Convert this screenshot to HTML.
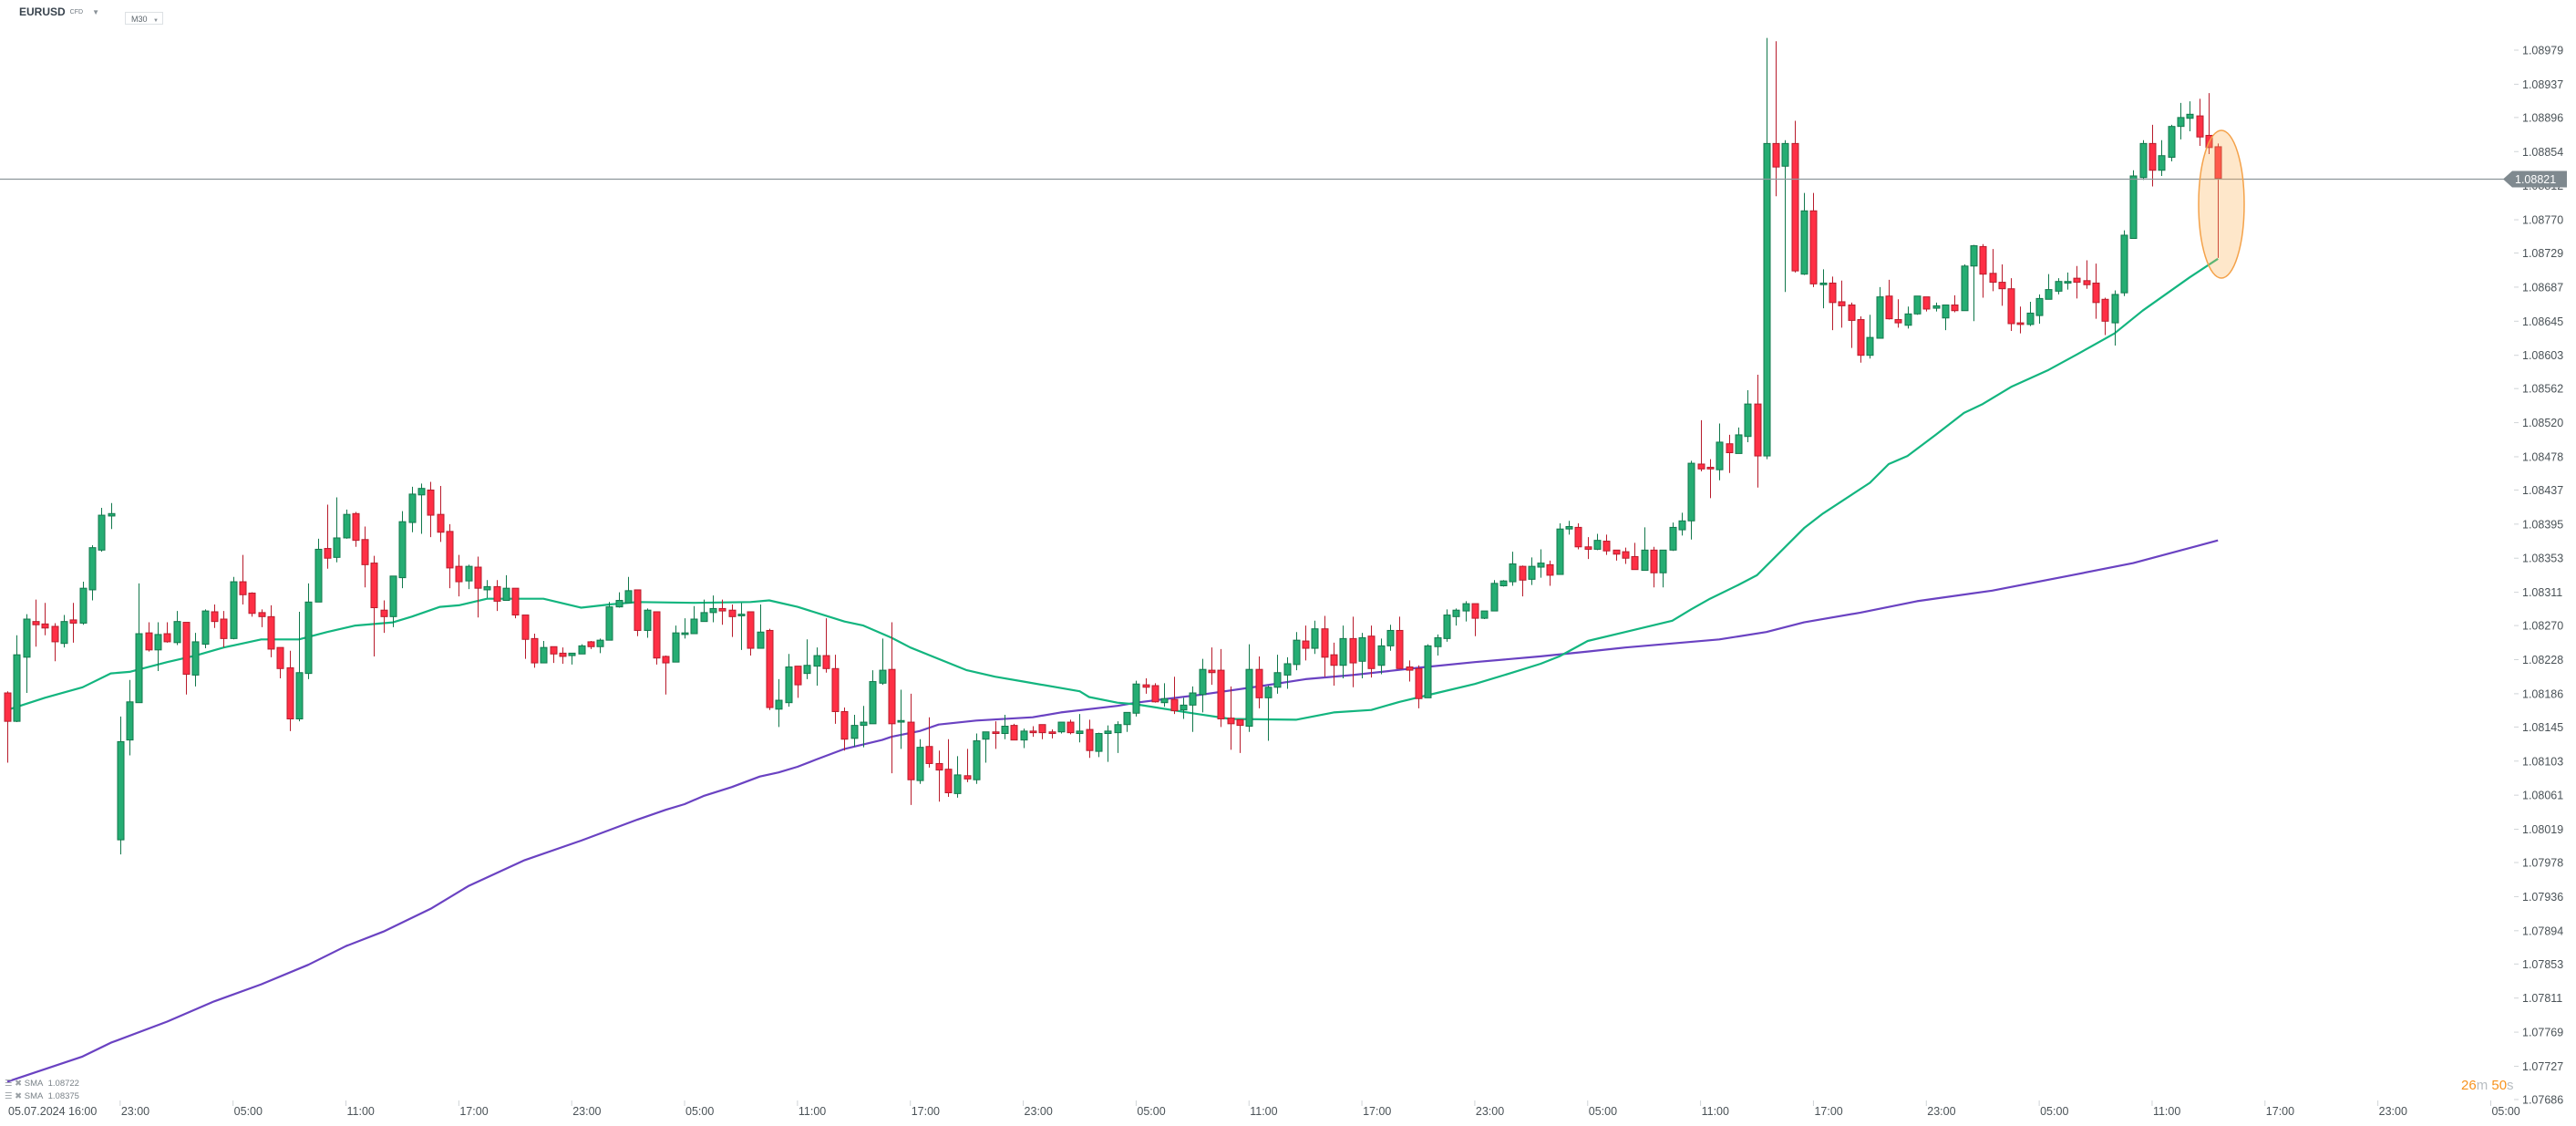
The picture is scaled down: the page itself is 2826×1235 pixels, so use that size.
<!DOCTYPE html>
<html><head><meta charset="utf-8"><style>
html,body{margin:0;padding:0;background:#fff;}
body{width:2826px;height:1235px;overflow:hidden;position:relative;font-family:"Liberation Sans",sans-serif;}
#hdr{position:absolute;left:0;top:0;}
</style></head><body>
<div style="position:absolute;left:21px;top:3px;height:20px;display:flex;align-items:center;">
<span style="font-weight:bold;font-size:12px;color:#38434d;">EURUSD</span>
<span style="font-size:7px;color:#6d767e;margin-left:5px;">CFD</span>
<span style="font-size:8px;color:#8a9298;margin-left:10px;">▼</span>
</div>
<div style="position:absolute;left:137px;top:13px;width:42px;height:14px;border:1px solid #dde1e4;font-size:9px;color:#5b646b;line-height:14px;padding-left:6px;box-sizing:border-box;">M30 <span style="font-size:6px;color:#8a9298;margin-left:4px;">▼</span></div>
<svg id="chart" width="2826" height="1235" style="position:absolute;left:0;top:0;" xmlns="http://www.w3.org/2000/svg"></svg>
<div style="position:absolute;left:5px;top:1182px;font-size:9.5px;color:#7a8288;line-height:14px;">
<div><span style="color:#9aa0a5">☰ ✖</span> SMA&nbsp; 1.08722</div>
<div><span style="color:#9aa0a5">☰ ✖</span> SMA&nbsp; 1.08375</div>
</div>
<div style="position:absolute;left:2700px;top:1182px;font-size:15px;color:#f7931e;">26<span style="color:#b8bdc1">m</span> 50<span style="color:#b8bdc1">s</span></div>
<script>
const OPEN=[108187,108152,108231,108275,108272,108269,108248,108277,108273,108314,108363,108405,108006,108129,108175,108261,108240,108260,108249,108274,108209,108247,108287,108278,108254,108324,108310,108286,108281,108243,108218,108155,108211,108299,108365,108354,108378,108408,108376,108347,108289,108281,108329,108397,108431,108437,108407,108386,108343,108325,108342,108314,108318,108301,108316,108283,108254,108224,108244,108236,108233,108235,108250,108244,108252,108293,108298,108314,108264,108287,108232,108225,108259,108260,108275,108286,108291,108289,108282,108287,108242,108264,108167,108175,108220,108211,108220,108233,108217,108164,108131,108147,108149,108199,108216,108151,108151,108079,108121,108100,108093,108063,108085,108080,108130,108139,108137,108147,108129,108140,108148,108139,108139,108151,108137,108142,108115,108137,108138,108148,108162,108197,108196,108175,108179,108166,108172,108185,108215,108215,108156,108154,108146,108216,108181,108194,108209,108222,108251,108242,108266,108234,108221,108254,108226,108257,108221,108245,108264,108219,108217,108181,108244,108254,108281,108288,108297,108279,108288,108319,108324,108343,108327,108342,108345,108333,108389,108391,108367,108364,108374,108363,108361,108355,108338,108363,108335,108363,108388,108399,108469,108465,108462,108494,108482,108503,108543,108479,108864,108836,108864,108703,108781,108690,108692,108669,108665,108647,108603,108624,108676,108647,108640,108654,108675,108661,108649,108665,108658,108713,108737,108704,108693,108685,108643,108641,108652,108672,108682,108692,108698,108695,108692,108672,108643,108680,108747,108822,108864,108831,108847,108885,108895,108898,108874,108860];
const HIGH=[108189,108258,108284,108302,108298,108273,108283,108298,108324,108369,108415,108421,108158,108203,108322,108274,108274,108274,108288,108274,108261,108290,108296,108288,108330,108357,108311,108290,108295,108243,108239,108287,108322,108377,108419,108428,108413,108410,108392,108356,108301,108331,108411,108441,108445,108447,108442,108395,108357,108345,108355,108326,108326,108332,108316,108283,108260,108251,108244,108243,108236,108247,108251,108254,108299,108311,108330,108314,108291,108287,108233,108270,108279,108294,108302,108307,108302,108296,108298,108287,108296,108266,108204,108235,108220,108253,108243,108279,108234,108169,108160,108171,108215,108254,108274,108191,108186,108130,108157,108116,108130,108109,108118,108137,108139,108152,108160,108149,108143,108146,108148,108142,108151,108154,108161,108154,108138,108147,108152,108163,108202,108205,108199,108199,108207,108181,108195,108229,108243,108241,108195,108154,108247,108232,108196,108234,108231,108262,108270,108276,108282,108249,108270,108281,108261,108270,108254,108271,108281,108227,108221,108247,108259,108290,108291,108300,108297,108288,108326,108326,108361,108344,108354,108364,108350,108396,108399,108396,108379,108383,108382,108363,108366,108372,108391,108367,108363,108397,108409,108473,108523,108475,108519,108505,108514,108560,108579,108994,108990,108868,108892,108803,108803,108709,108700,108695,108668,108651,108653,108687,108696,108672,108663,108676,108675,108668,108665,108677,108715,108739,108740,108734,108715,108698,108663,108669,108678,108703,108698,108705,108713,108720,108716,108674,108683,108757,108831,108868,108887,108868,108887,108914,108916,108919,108926,108864];
const LOW=[108101,108151,108187,108244,108258,108226,108243,108249,108271,108301,108361,108389,107988,108110,108175,108238,108214,108249,108246,108185,108195,108242,108267,108243,108253,108296,108281,108268,108231,108205,108140,108152,108204,108299,108340,108348,108377,108367,108317,108232,108261,108268,108316,108385,108383,108379,108373,108316,108306,108315,108280,108304,108288,108301,108279,108229,108218,108224,108224,108223,108222,108235,108241,108236,108252,108292,108298,108257,108255,108222,108185,108225,108254,108260,108275,108274,108271,108256,108240,108233,108242,108166,108145,108170,108181,108204,108196,108212,108149,108116,108121,108120,108149,108197,108088,108118,108049,108075,108095,108053,108059,108058,108077,108075,108101,108118,108130,108129,108119,108133,108130,108131,108137,108136,108126,108107,108108,108102,108113,108139,108158,108186,108175,108170,108161,108155,108139,108163,108197,108145,108117,108113,108139,108168,108128,108186,108192,108215,108227,108235,108207,108196,108205,108194,108205,108206,108210,108239,108217,108201,108168,108181,108233,108250,108270,108275,108257,108278,108288,108318,108319,108306,108320,108329,108319,108333,108382,108364,108352,108363,108357,108350,108346,108339,108338,108317,108317,108362,108381,108376,108460,108427,108449,108458,108482,108496,108440,108475,108799,108681,108705,108702,108687,108661,108634,108637,108612,108594,108599,108624,108647,108637,108636,108653,108657,108657,108634,108656,108658,108645,108674,108682,108664,108633,108630,108639,108642,108672,108678,108684,108673,108685,108648,108628,108615,108676,108747,108819,108811,108824,108842,108869,108879,108861,108851,108723];
const CLOSE=[108152,108234,108278,108271,108267,108250,108275,108273,108316,108366,108406,108408,108127,108176,108260,108240,108259,108250,108275,108210,108250,108288,108275,108254,108324,108308,108285,108281,108241,108217,108155,108212,108299,108364,108353,108378,108407,108375,108345,108292,108281,108331,108398,108432,108439,108406,108385,108341,108324,108343,108316,108318,108300,108316,108283,108253,108224,108243,108235,108232,108236,108245,108244,108252,108293,108301,108313,108264,108289,108230,108224,108261,108261,108278,108286,108291,108288,108281,108284,108242,108262,108169,108178,108219,108197,108221,108233,108217,108164,108130,108147,108151,108201,108215,108149,108153,108080,108120,108100,108092,108064,108086,108081,108128,108139,108137,108146,108129,108140,108138,108138,108137,108151,108138,108140,108116,108137,108140,108148,108163,108198,108194,108176,108180,108165,108172,108187,108216,108212,108155,108149,108147,108216,108181,108194,108212,108223,108252,108242,108266,108231,108221,108254,108224,108255,108217,108245,108264,108217,108215,108180,108245,108255,108283,108289,108297,108279,108288,108322,108325,108346,108326,108343,108347,108332,108389,108392,108367,108364,108375,108362,108358,108353,108339,108363,108335,108363,108391,108399,108470,108463,108463,108496,108483,108505,108543,108479,108864,108835,108864,108707,108781,108691,108692,108668,108664,108646,108603,108625,108675,108648,108643,108654,108676,108660,108664,108665,108658,108713,108738,108703,108693,108685,108642,108641,108655,108673,108684,108694,108694,108693,108690,108668,108645,108678,108751,108824,108864,108831,108849,108885,108896,108900,108872,108859,108821];
const SMA_FAST_IDX=[0,4,8,11,13,17,20,23,27,31,34,37,41,43,46,48,51,57,61,64,67,73,79,81,84,89,91,94,96,102,105,108,114,115,118,120,126,130,137,141,145,148,152,156,160,163,165,168,177,179,181,184,186,191,193,198,200,202,205,208,210,213,217,220,224,227,232,235];
const SMA_FAST_VAL=[108166,108181,108194,108211,108213,108225,108233,108243,108253,108253,108262,108270,108274,108281,108293,108295,108303,108303,108292,108296,108299,108298,108299,108301,108293,108275,108270,108255,108243,108215,108207,108201,108189,108182,108175,108173,108162,108155,108154,108163,108166,108176,108187,108198,108212,108223,108232,108251,108276,108290,108303,108320,108332,108390,108408,108446,108469,108479,108505,108532,108543,108564,108585,108604,108630,108658,108699,108722];
const SMA_SLOW_IDX=[0,8,11,17,22,27,32,36,40,45,49,55,61,67,70,72,74,77,80,82,84,86,89,93,94,97,99,103,109,112,118,120,127,133,138,143,150,156,163,168,172,182,187,191,197,203,211,219,226,235];
const SMA_SLOW_VAL=[107708,107739,107756,107782,107807,107828,107852,107875,107893,107921,107949,107981,108005,108031,108043,108050,108060,108071,108084,108089,108096,108105,108118,108129,108133,108140,108148,108153,108157,108163,108171,108175,108185,108195,108204,108209,108218,108225,108232,108238,108243,108253,108262,108274,108286,108300,108313,108331,108347,108375];
const PRICE_TICKS=["1.08979","1.08937","1.08896","1.08854","1.08812","1.08770","1.08729","1.08687","1.08645","1.08603","1.08562","1.08520","1.08478","1.08437","1.08395","1.08353","1.08311","1.08270","1.08228","1.08186","1.08145","1.08103","1.08061","1.08019","1.07978","1.07936","1.07894","1.07853","1.07811","1.07769","1.07727","1.07686"];
const TIME_LABELS=["23:00","05:00","11:00","17:00","23:00","05:00","11:00","17:00","23:00","05:00","11:00","17:00","23:00","05:00","11:00","17:00","23:00","05:00","11:00","17:00","23:00","05:00"];
const LAST_PRICE=108821;

const NS="http://www.w3.org/2000/svg";
const svg=document.getElementById('chart');
function xAt(i){return 8+10.32*i;}
function yAt(pts){return 55+(108979-pts)/1.1234;}
function mk(tag,attrs,parent){const e=document.createElementNS(NS,tag);for(const k in attrs)e.setAttribute(k,attrs[k]);(parent||svg).appendChild(e);return e;}

// price axis
const axisG=mk('g',{});


PRICE_TICKS.forEach(function(t){
  const y=yAt(Math.round(parseFloat(t)*100000));
  const tk=mk('line',{x1:2758,x2:2763,y1:y,y2:y,stroke:'#d0d4d7','stroke-width':1},axisG);
  
  
  const tx=mk('text',{x:2767,y:y+4.5,'font-size':'12.5','fill':'#4a5257','font-family':'Liberation Sans, sans-serif'},axisG);
  tx.textContent=t;
  
  
});

// time axis
const timeG=mk('g',{});


const t0=mk('text',{x:9,y:1223,'font-size':'12.5',fill:'#4a5257'},timeG);
t0.textContent='05.07.2024  16:00';
t0.setAttribute('xml:space','preserve');


TIME_LABELS.forEach(function(l,k){
  const x=xAt(12+12*k);
  const tk=mk('line',{x1:x,x2:x,y1:1207,y2:1213,stroke:'#d0d4d7','stroke-width':1},timeG);
  
  
  const tx=mk('text',{x:x+1,y:1223,'font-size':'12.5',fill:'#4a5257'},timeG);
  tx.textContent=l;
  
  
});

// SMA lines
function smaPath(idx,val){return idx.map(function(i,k){return (k?'L':'M')+xAt(i).toFixed(1)+' '+yAt(val[k]).toFixed(1);}).join(' ');}
const slow=mk('path',{d:smaPath(SMA_SLOW_IDX,SMA_SLOW_VAL),fill:'none',stroke:'#6a42c2','stroke-width':2.2,'stroke-linejoin':'round'});


const fast=mk('path',{d:smaPath(SMA_FAST_IDX,SMA_FAST_VAL),fill:'none',stroke:'#13b57f','stroke-width':2.2,'stroke-linejoin':'round'});



// candles
const cg=mk('g',{});


for(let i=0;i<OPEN.length;i++){
  const up=CLOSE[i]>=OPEN[i];
  const x=Math.round(xAt(i));
  const g=mk('g',{},cg);
  
  
  const wc=up?'#12784c':'#b81c2c';
  mk('line',{x1:x+0.5,x2:x+0.5,y1:yAt(HIGH[i]),y2:yAt(LOW[i]),stroke:wc,'stroke-width':1},g);
  const yt=yAt(Math.max(OPEN[i],CLOSE[i])), yb=yAt(Math.min(OPEN[i],CLOSE[i]));
  mk('rect',{x:x-3,y:yt,width:7,height:Math.max(1.5,yb-yt),fill:up?'#25ad73':'#ff2f45',stroke:wc,'stroke-width':1},g);
}

// last price line + label
const ly=Math.round(yAt(LAST_PRICE))+0.5;
const pl=mk('line',{x1:0,x2:2752,y1:ly,y2:ly,stroke:'#8d969b','stroke-width':1.2});


const pg=mk('g',{});


mk('polygon',{points:(2746)+','+ly+' '+2756+','+(ly-9)+' '+2816+','+(ly-9)+' '+2816+','+(ly+9)+' '+2756+','+(ly+9),fill:'#7f898f'},pg);
const plt=mk('text',{x:2759,y:ly+4.5,'font-size':'12.5',fill:'#ffffff'},pg);
plt.textContent=(LAST_PRICE/100000).toFixed(5);

// highlight ellipse
const el=mk('ellipse',{cx:2437,cy:224,rx:25,ry:81,fill:'rgba(253,180,90,0.32)',stroke:'#f4a24a','stroke-width':1.5});


</script>
</body></html>
